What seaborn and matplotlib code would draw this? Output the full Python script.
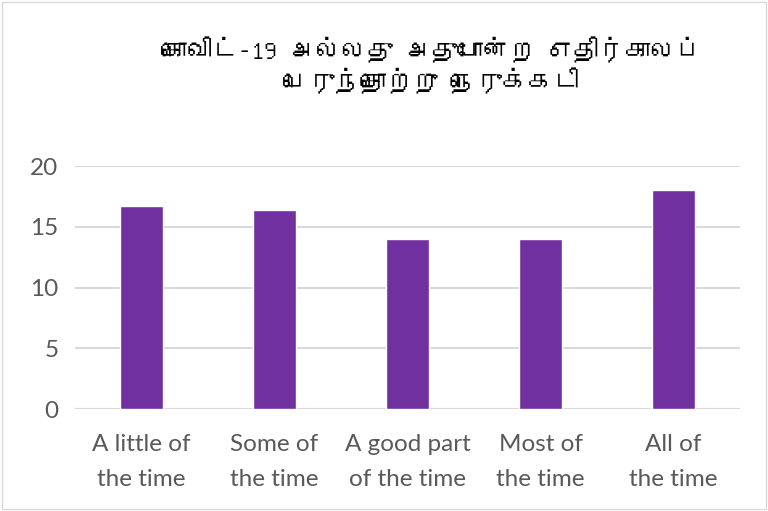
import matplotlib
matplotlib.use("Agg")
import matplotlib.pyplot as plt
from matplotlib import font_manager
import seaborn as sns
import pandas as pd

categories = ["A little of\nthe time", "Some of\nthe time", "A good part\nof the time",
              "Most of\nthe time", "All of\nthe time"]
values = [16.7, 16.4, 14.0, 14.0, 18.0]
yticks = [0, 5, 10, 15, 20]
title_lines = ["கொவிட்-19 அல்லது அதுபோன்ற எதிர்காலப்", "பெருந்தொற்று நெருக்கடி"]

# find a font that covers Tamil
tamil_font = None
try:
    from fontTools.ttLib import TTFont
    for fe in font_manager.fontManager.ttflist:
        try:
            f = TTFont(fe.fname, fontNumber=0, lazy=True)
            cmap = f.getBestCmap()
            if cmap and 0x0B95 in cmap:
                tamil_font = fe.name
                break
        except Exception:
            pass
except Exception:
    pass

sns.set_theme(style="white")
plt.rcParams['font.family'] = ['Lato', 'DejaVu Sans']

df = pd.DataFrame({"cat": categories, "val": values})

fig = plt.figure(figsize=(7.68, 5.11), dpi=100)
ax = fig.add_axes([75/768, 1-409/511, 665/768, 243/511])
sns.barplot(data=df, x="cat", y="val", color="#7030A0", width=0.32,
            saturation=1, ax=ax, zorder=3)
ax.set_xlim(-0.5, 4.5)
ax.set_ylim(0, 20)
ax.set_yticks(yticks)
ax.yaxis.grid(True, color="#d9d9d9", linewidth=1.5, zorder=0)
ax.set_axisbelow(True)
for s in ax.spines.values():
    s.set_visible(False)
ax.axhline(0, color="#d9d9d9", linewidth=1.5, zorder=1)
ax.set_xlabel("")
ax.set_ylabel("")
ax.tick_params(axis="both", length=0, labelsize=17.5, colors="#595959")
ax.tick_params(axis="x", pad=18)
ax.tick_params(axis="y", pad=12)
for lbl in ax.get_xticklabels():
    lbl.set_linespacing(1.8)

fam = [tamil_font, 'DejaVu Sans'] if tamil_font else ['DejaVu Sans']
fig.text(431/768, 1-50/511, title_lines[0], ha="center", va="center",
         fontsize=18.5, color="black", family=fam)
fig.text(431/768, 1-81/511, title_lines[1], ha="center", va="center",
         fontsize=18.5, color="black", family=fam)

border = plt.Rectangle((0.002, 0.003), 0.995, 0.994, transform=fig.transFigure,
                       fill=False, edgecolor="#d9d9d9", linewidth=1)
fig.patches.append(border)

fig.savefig("out.png", dpi=100, facecolor="white")
